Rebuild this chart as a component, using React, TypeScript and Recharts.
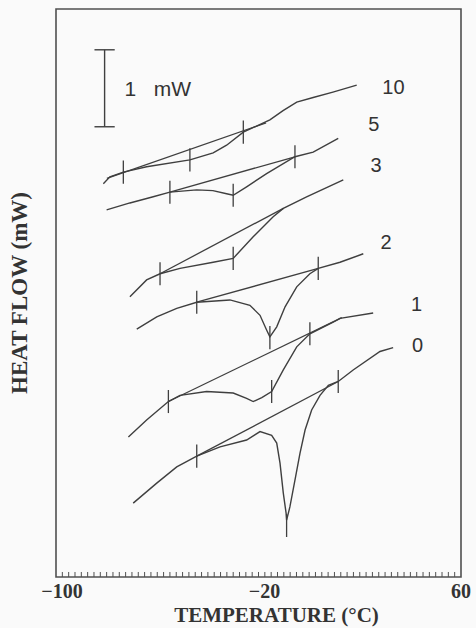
import { LineChart, Line, XAxis, YAxis, ReferenceLine, ReferenceArea, ReferenceDot } from 'recharts';

type Pt = [number, number];

// DSC traces: [temperature (°C), heat flow (mW, stacked offsets)]
const trace10: Pt[] = [
  [-81.3, 5.11], [-78.7, 5.2], [-73.4, 5.26], [-64.2, 5.33], [-47.1, 5.42], [-37.9, 5.51],
  [-32.6, 5.61], [-26.0, 5.78], [-15.5, 5.94], [-10.3, 6.06], [-4.9, 6.17], [1.6, 6.23],
  [9.4, 6.3], [18.8, 6.39],
];
const trace5: Pt[] = [
  [-80.0, 4.77], [-70.8, 4.86], [-61.6, 4.94], [-55.0, 5.0], [-44.4, 5.03], [-38.0, 5.02],
  [-32.6, 4.98], [-30.0, 4.96], [-24.7, 5.07], [-16.8, 5.24], [-5.6, 5.46], [1.6, 5.52],
  [11.5, 5.7],
];
const trace3: Pt[] = [
  [-70.8, 3.64], [-64.2, 3.86], [-58.9, 3.94], [-51.0, 4.01], [-37.9, 4.09], [-30.0, 4.14],
  [-22.1, 4.42], [-14.2, 4.68], [-10.2, 4.79], [-1.0, 4.94], [13.5, 5.16],
];
const trace2: Pt[] = [
  [-68.1, 3.22], [-60.2, 3.38], [-52.3, 3.49], [-44.4, 3.57], [-31.3, 3.6], [-23.4, 3.53],
  [-19.4, 3.4], [-16.8, 3.21], [-15.5, 3.12], [-12.8, 3.25], [-9.5, 3.51], [-4.9, 3.77],
  [0.3, 3.94], [3.6, 4.01], [12.2, 4.09], [21.4, 4.2],
];
const trace1: Pt[] = [
  [-71.4, 1.82], [-64.2, 2.04], [-55.6, 2.28], [-51.0, 2.36], [-40.5, 2.41], [-30.0, 2.39],
  [-24.7, 2.32], [-22.1, 2.28], [-18.7, 2.33], [-14.8, 2.41], [-10.2, 2.69], [-4.9, 2.99],
  [0.3, 3.16], [9.5, 3.31], [12.2, 3.36], [25.3, 3.43],
];
const trace0: Pt[] = [
  [-69.5, 0.96], [-60.2, 1.22], [-52.3, 1.43], [-44.4, 1.57], [-35.2, 1.69], [-24.7, 1.78],
  [-19.4, 1.89], [-14.8, 1.84], [-12.8, 1.74], [-11.5, 1.48], [-10.2, 1.09], [-9.1, 0.83],
  [-8.9, 0.74], [-7.6, 0.91], [-5.6, 1.26], [-3.6, 1.61], [-1.6, 1.91], [1.0, 2.17],
  [4.3, 2.36], [7.6, 2.49], [11.5, 2.54], [17.4, 2.69], [28.0, 2.93], [33.2, 2.98],
];

// straight construction baselines
const base10: Pt[] = [[-79.9, 5.18], [-17.0, 5.9]];
const base5: Pt[] = [[-55.0, 5.0], [-5.6, 5.46]];
const base3: Pt[] = [[-58.9, 3.94], [-10.2, 4.79]];
const base2: Pt[] = [[-44.4, 3.57], [3.6, 4.01]];
const base1: Pt[] = [[-55.6, 2.28], [12.9, 3.37]];
const base0: Pt[] = [[-44.4, 1.57], [11.5, 2.54]];

// short vertical markers (centre points)
const marks: Pt[] = [
  [-73.4, 5.26], [-47.1, 5.42], [-26.0, 5.78],
  [-55.0, 5.0], [-30.0, 4.96], [-5.6, 5.46],
  [-58.9, 3.94], [-30.0, 4.14],
  [-44.4, 3.57], [-15.5, 3.11], [3.6, 4.01],
  [-55.6, 2.28], [-14.8, 2.41], [0.3, 3.16],
  [-44.4, 1.57], [-8.9, 0.67], [11.5, 2.54],
];

const traceNames = ['10', '5', '3', '2', '1', '0'];
const traces = [trace10, trace5, trace3, trace2, trace1, trace0];
const baselines = [base10, base5, base3, base2, base1, base0];
const labelPos: Pt[] = [[33.3, 6.37], [25.6, 5.89], [26.4, 5.35], [30.4, 4.36], [42.4, 3.55], [42.8, 3.01]];

const tempTicks = [-100, -20, 60];
const minorTicks = [
  -97.5, -95, -92.5, -90, -87.5, -85, -82.5, -80, -77.5, -75, -72.5, -70, -67.5, -65, -62.5, -60,
  -57.5, -55, -52.5, -50, -47.5, -45, -42.5, -40, -37.5, -35, -32.5, -30, -27.5, -25, -22.5, -20,
  -17.5, -15, -12.5, -10, -7.5, -5, -2.5, 0, 2.5, 5, 7.5, 10, 12.5, 15, 17.5, 20,
  22.5, 25, 27.5, 30, 32.5, 35, 37.5, 40, 42.5, 45, 47.5, 50, 52.5, 55, 57.5,
];

// 1 mW scale bar
const scaleT = -80.8;
const scaleLow = 5.85;
const scaleHigh = 6.85;
const scaleLabel: Pt = [-74.9, 6.35];

const Y_MAX = 7.38;
const INK = '#3f3f3f';
const MARK_HALF = 0.15;
const SERIF = '"Liberation Serif", "DejaVu Serif", serif';
const SANS = '"Liberation Sans", Arial, sans-serif';

const rows = (pts: Pt[]) => pts.map(([t, h]) => ({ t, h }));

function TempTick({ x, y, payload }: any) {
  const v = payload.value as number;
  const txt = v < 0 ? `\u2212${Math.abs(v)}` : `${v}`;
  return (
    <text x={x + (v < 0 ? 6 : 0)} y={y} dy="0.71em" textAnchor="middle"
      fontFamily={SERIF} fontWeight="bold" fontSize={20} fill="#333">
      {txt}
    </text>
  );
}

export default function App() {
  return (
    <div style={{ position: 'absolute', left: 0, top: 0, width: 476, height: 628, background: '#fafafa' }}>
      <LineChart width={476} height={628} margin={{ top: 9, right: 15, bottom: 0, left: 0 }}>
        <XAxis
          type="number"
          dataKey="t"
          domain={[-100, 60]}
          ticks={tempTicks}
          axisLine={false}
          tickLine={false}
          tickMargin={1}
          height={51}
          tick={<TempTick />}
          label={{
            content: ({ viewBox }: any) => (
              <text x={viewBox.x + viewBox.width / 2 + 18} y={viewBox.y + viewBox.height - 6}
                textAnchor="middle" fontFamily={SERIF} fontWeight="bold" fontSize={21} fill="#333">
                TEMPERATURE (°C)
              </text>
            ),
          }}
        />
        <YAxis
          type="number"
          domain={[0, Y_MAX]}
          width={56}
          tick={false}
          axisLine={false}
          tickLine={false}
          label={{
            content: ({ viewBox }: any) => {
              const x = viewBox.x + 27;
              const y = viewBox.y + viewBox.height / 2;
              return (
                <text x={x} y={y} transform={`rotate(-90, ${x}, ${y})`} textAnchor="middle"
                  fontFamily={SERIF} fontWeight="bold" fontSize={23} fill="#333">
                  HEAT FLOW (mW)
                </text>
              );
            },
          }}
        />

        <ReferenceArea x1={-100} x2={60} y1={0} y2={Y_MAX} fill="none" stroke="#505050" strokeWidth={1.6} />

        {minorTicks.map((t) => (
          <ReferenceLine key={`m${t}`} segment={[{ x: t, y: 0 }, { x: t, y: 0.065 }]} stroke="#505050" strokeWidth={1} />
        ))}

        {/* scale bar */}
        <ReferenceLine segment={[{ x: scaleT, y: scaleLow }, { x: scaleT, y: scaleHigh }]} stroke={INK} strokeWidth={1.4} />
        <ReferenceLine segment={[{ x: scaleT - 4, y: scaleLow }, { x: scaleT + 4, y: scaleLow }]} stroke={INK} strokeWidth={1.4} />
        <ReferenceLine segment={[{ x: scaleT - 4, y: scaleHigh }, { x: scaleT + 4, y: scaleHigh }]} stroke={INK} strokeWidth={1.4} />
        <ReferenceDot x={scaleLabel[0]} y={scaleLabel[1]} r={0} stroke="none"
          label={{ value: '1\u00a0\u00a0\u00a0mW', position: 'right', fontFamily: SANS, fontSize: 21, fill: '#333' }} />

        {traces.map((tr, i) => (
          <Line key={`tr${traceNames[i]}`} data={rows(tr)} dataKey="h" type="linear" stroke={INK}
            strokeWidth={1.4} dot={false} activeDot={false} isAnimationActive={false} />
        ))}
        {baselines.map((b, i) => (
          <Line key={`bl${traceNames[i]}`} data={rows(b)} dataKey="h" type="linear" stroke={INK}
            strokeWidth={1.3} dot={false} activeDot={false} isAnimationActive={false} />
        ))}

        {marks.map(([t, h], i) => (
          <ReferenceLine key={`k${i}`} segment={[{ x: t, y: h - MARK_HALF }, { x: t, y: h + MARK_HALF }]}
            stroke={INK} strokeWidth={1.3} />
        ))}

        {traceNames.map((name, i) => (
          <ReferenceDot key={`lab${name}`} x={labelPos[i][0]} y={labelPos[i][1]} r={0} stroke="none"
            label={{ value: name, position: 'center', fontFamily: SANS, fontSize: 20, fill: '#333' }} />
        ))}
      </LineChart>
    </div>
  );
}
